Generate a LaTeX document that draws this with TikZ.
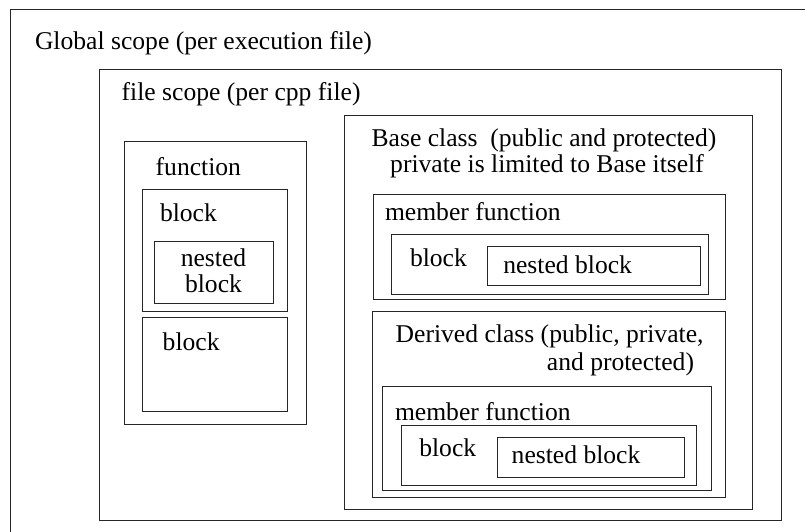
\documentclass[tikz,border=0pt]{standalone}
\usepackage{fontspec}
\setmainfont{Liberation Serif}
\begin{document}
\begin{tikzpicture}[x=1pt,y=-1pt,
  box/.style={draw=black!85, line width=1pt, inner sep=0pt, outer sep=0pt, anchor=north west, fill=none},
  lbl/.style={inner sep=0pt, outer sep=0pt, anchor=base west, font=\fontsize{25.6}{30}\selectfont}]
\useasboundingbox (0,0) rectangle (805,532);
\clip (0,0) rectangle (805,532);
% boxes: (left,top), width, height
\node[box, minimum width=820pt, minimum height=560pt] (global) at (10.5,9.5) {};
\node[box, minimum width=682pt, minimum height=450.5pt] (filescope) at (99.5,69.5) {};
\node[box, minimum width=182pt, minimum height=282.5pt] (function) at (124.5,141.5) {};
\node[box, minimum width=145pt, minimum height=122pt] (fblock1) at (142.5,189) {};
\node[box, minimum width=119.5pt, minimum height=62pt] (fnested) at (154,241) {};
\node[box, minimum width=145pt, minimum height=94pt] (fblock2) at (142.5,317.5) {};
\node[box, minimum width=408pt, minimum height=393.5pt] (base) at (344.5,115.5) {};
\node[box, minimum width=352pt, minimum height=104.5pt] (bmember) at (373,194.5) {};
\node[box, minimum width=317pt, minimum height=59.5pt] (bblock) at (391.5,234.5) {};
\node[box, minimum width=212.5pt, minimum height=38.5pt] (bnested) at (487.5,246.5) {};
\node[box, minimum width=353pt, minimum height=185.5pt] (derived) at (372,311.5) {};
\node[box, minimum width=328.5pt, minimum height=104.5pt] (dmember) at (382.5,386) {};
\node[box, minimum width=295.5pt, minimum height=59.5pt] (dblock) at (401,425.5) {};
\node[box, minimum width=187pt, minimum height=39.5pt] (dnested) at (497,437.5) {};
% labels
\node[lbl] (tglobal) at (35,50) {Global scope (per execution file)};
\node[lbl] (tfile) at (121.7,101) {file scope (per cpp file)};
\node[lbl] (tfunc) at (155.7,175.7) {function};
\node[lbl] (tfb1) at (160,221.7) {block};
\node[lbl, anchor=base] (tfn1) at (213.5,266.7) {nested};
\node[lbl, anchor=base] (tfn2) at (213.5,292.7) {block};
\node[lbl] (tfb2) at (162.7,350) {block};
\node[lbl, anchor=base] (tbase1) at (544,146.7) {Base class\ \ (public and protected)};
\node[lbl, anchor=base] (tbase2) at (547,172.8) {private is limited to Base itself};
\node[lbl] (tbm) at (385,220) {member function};
\node[lbl] (tbb) at (410,266.7) {block};
\node[lbl] (tbn) at (503.3,273.3) {nested block};
\node[lbl, anchor=base east] (tder1) at (703.5,342.7) {Derived class (public, private,};
\node[lbl, anchor=base east] (tder2) at (694,370.5) {and protected)};
\node[lbl] (tdm) at (395,420.7) {member function};
\node[lbl] (tdb) at (419.3,456.7) {block};
\node[lbl] (tdn) at (511.7,463.3) {nested block};
\end{tikzpicture}
\end{document}
